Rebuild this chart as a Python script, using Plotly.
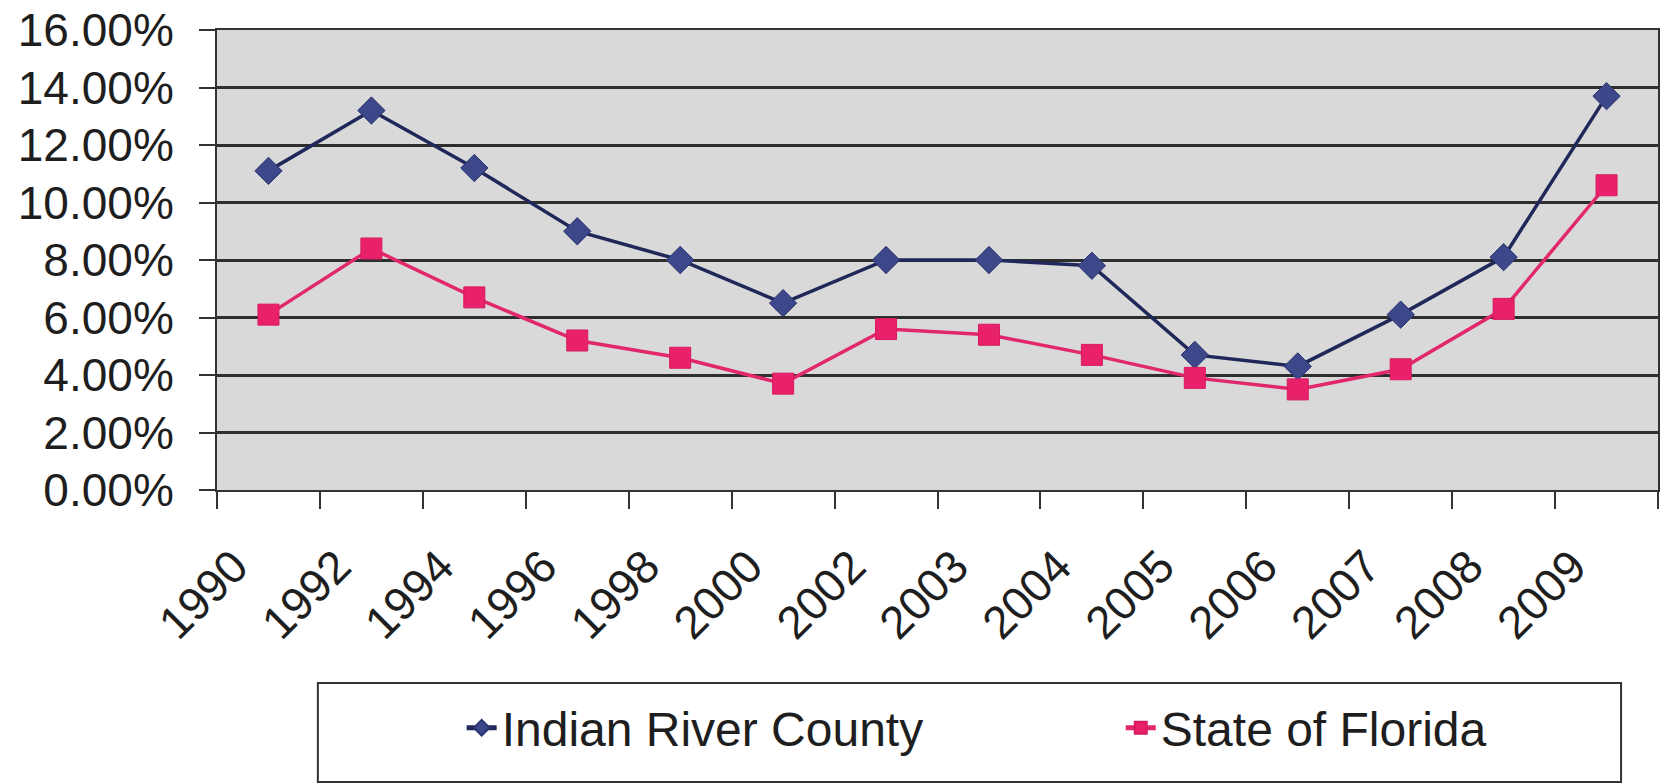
import plotly.graph_objects as go

years = ["1990", "1992", "1994", "1996", "1998", "2000", "2002", "2003",
         "2004", "2005", "2006", "2007", "2008", "2009"]
indian_river = [11.1, 13.2, 11.2, 9.0, 8.0, 6.5, 8.0, 8.0, 7.8, 4.7, 4.3, 6.1, 8.1, 13.7]
florida = [6.1, 8.4, 6.7, 5.2, 4.6, 3.7, 5.6, 5.4, 4.7, 3.9, 3.5, 4.2, 6.3, 10.6]
y_ticks = [0, 2, 4, 6, 8, 10, 12, 14, 16]
y_tick_labels = ["0.00%", "2.00%", "4.00%", "6.00%", "8.00%",
                 "10.00%", "12.00%", "14.00%", "16.00%"]

FONT = "Liberation Sans, Arial, sans-serif"
TXT = "#1e1e1e"

W, H = 1663, 784
L, R, T, B = 217, 3, 30, 294
pw, ph = W - L - R, H - T - B

def px2x(px):
    return (px - L) / pw

def px2y(py):
    return (H - B - py) / ph

fig = go.Figure()
fig.add_trace(go.Scatter(
    x=years, y=indian_river, name="Indian River County", mode="lines+markers",
    line=dict(color="#20285a", width=3.5),
    marker=dict(symbol="diamond", size=21, color="#3c4889",
                line=dict(color="#2a3370", width=1)),
    legend="legend",
))
fig.add_trace(go.Scatter(
    x=years, y=florida, name="State of Florida", mode="lines+markers",
    line=dict(color="#e2286c", width=3.5),
    marker=dict(symbol="square", size=21, color="#e9206a",
                line=dict(color="#d81a60", width=1)),
    legend="legend2",
))

fig.add_shape(type="rect", xref="paper", yref="paper",
              x0=px2x(318), x1=px2x(1623), y0=px2y(683), y1=px2y(782),
              line=dict(color="#333333", width=2), fillcolor="rgba(0,0,0,0)")

leg_common = dict(
    orientation="h", xanchor="left", yanchor="middle",
    font=dict(family=FONT, size=48, color=TXT),
    bgcolor="rgba(0,0,0,0)", borderwidth=0, itemsizing="constant",
)

fig.update_layout(
    width=W, height=H,
    margin=dict(l=L, r=R, t=T, b=B, pad=0),
    paper_bgcolor="white",
    plot_bgcolor="#d9d9d9",
    font=dict(family=FONT, size=46, color=TXT),
    showlegend=True,
    legend=dict(x=px2x(462), y=px2y(728), **leg_common),
    legend2=dict(x=px2x(1122), y=px2y(728), **leg_common),
    xaxis=dict(
        type="category", categoryorder="array", categoryarray=years,
        range=[-0.5, len(years) - 0.5],
        showgrid=False, showline=True, linecolor="#333333", linewidth=2, mirror=True,
        ticks="outside", tickson="boundaries", ticklen=17, tickwidth=2, tickcolor="#333333",
        tickangle=-45, tickfont=dict(family=FONT, size=46, color=TXT),
        ticklabelstandoff=29, ticklabelshift=-34,
        zeroline=False,
    ),
    yaxis=dict(
        range=[0, 16], tickvals=y_ticks, ticktext=y_tick_labels,
        showgrid=True, gridcolor="#2e2e2e", gridwidth=2.5,
        showline=True, linecolor="#333333", linewidth=2, mirror=True,
        ticks="outside", ticklen=16, tickwidth=2, tickcolor="#333333",
        tickfont=dict(family=FONT, size=46, color=TXT),
        ticklabelstandoff=16,
        zeroline=False,
    ),
)

fig.write_html("out.html")
